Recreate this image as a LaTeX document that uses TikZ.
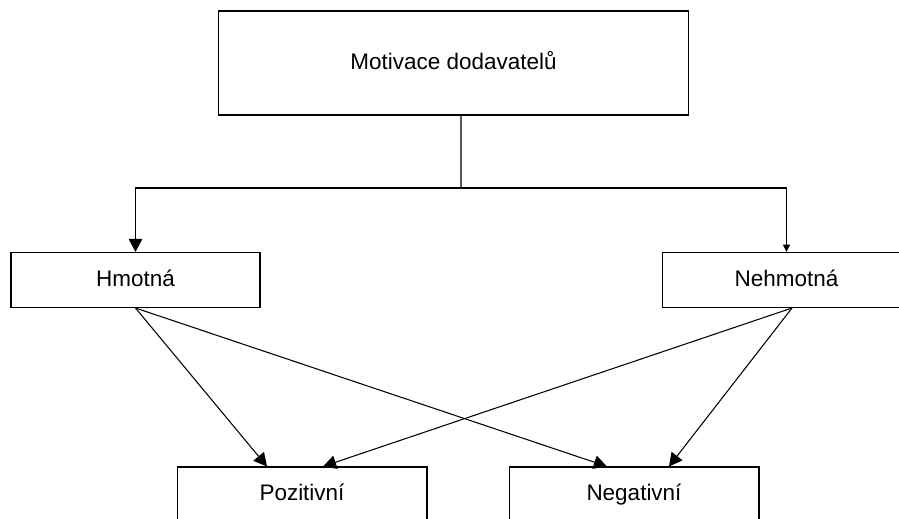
\documentclass[tikz,border=0pt]{standalone}
\usepackage{fontspec}
\setmainfont{Liberation Sans}
\usetikzlibrary{arrows.meta}

\begin{document}
\begin{tikzpicture}
  [x=0.02cm,y=-0.02cm,line width=0.6pt,
   every node/.style={draw,inner sep=0pt,text height=0.9em,text depth=0.18em,
     font=\fontsize{12.8}{15}\selectfont},
   bigtip/.style={-{Triangle[length=7.5pt,width=7.8pt]}},
   smalltip/.style={-{Triangle[length=4.2pt,width=4pt]}}]
  \clip (0,0) rectangle (899,519);
  \node[minimum width=9.42cm,minimum height=2.08cm] (mot) at (453.5,63) {Motivace dodavatelů};
  \node[minimum width=4.98cm,minimum height=1.1cm] (hmot) at (135.5,280) {Hmotná};
  \node[minimum width=4.98cm,minimum height=1.1cm] (nehmot) at (786.5,280) {Nehmotná};
  \node[minimum width=5cm,minimum height=1.1cm] (poz) at (302,494.5) {Pozitivní};
  \node[minimum width=5cm,minimum height=1.1cm] (neg) at (634,494.5) {Negativní};
  \coordinate (split) at (461,188);

  \draw ([xshift=.15cm]mot.south) -- (split);
  \draw[bigtip] (split) -| (hmot.north);
  \draw[smalltip] (split) -| (nehmot.north);

\foreach \from/\sx/\to/\dx in
{hmot/0/poz/-0.7, hmot/0/neg/-0.54, nehmot/0.11/poz/0.42, nehmot/0.11/neg/0.7}
    \draw[bigtip] ([xshift=\sx cm]\from.south) -- ([xshift=\dx cm]\to.north);
\end{tikzpicture}
\end{document}
